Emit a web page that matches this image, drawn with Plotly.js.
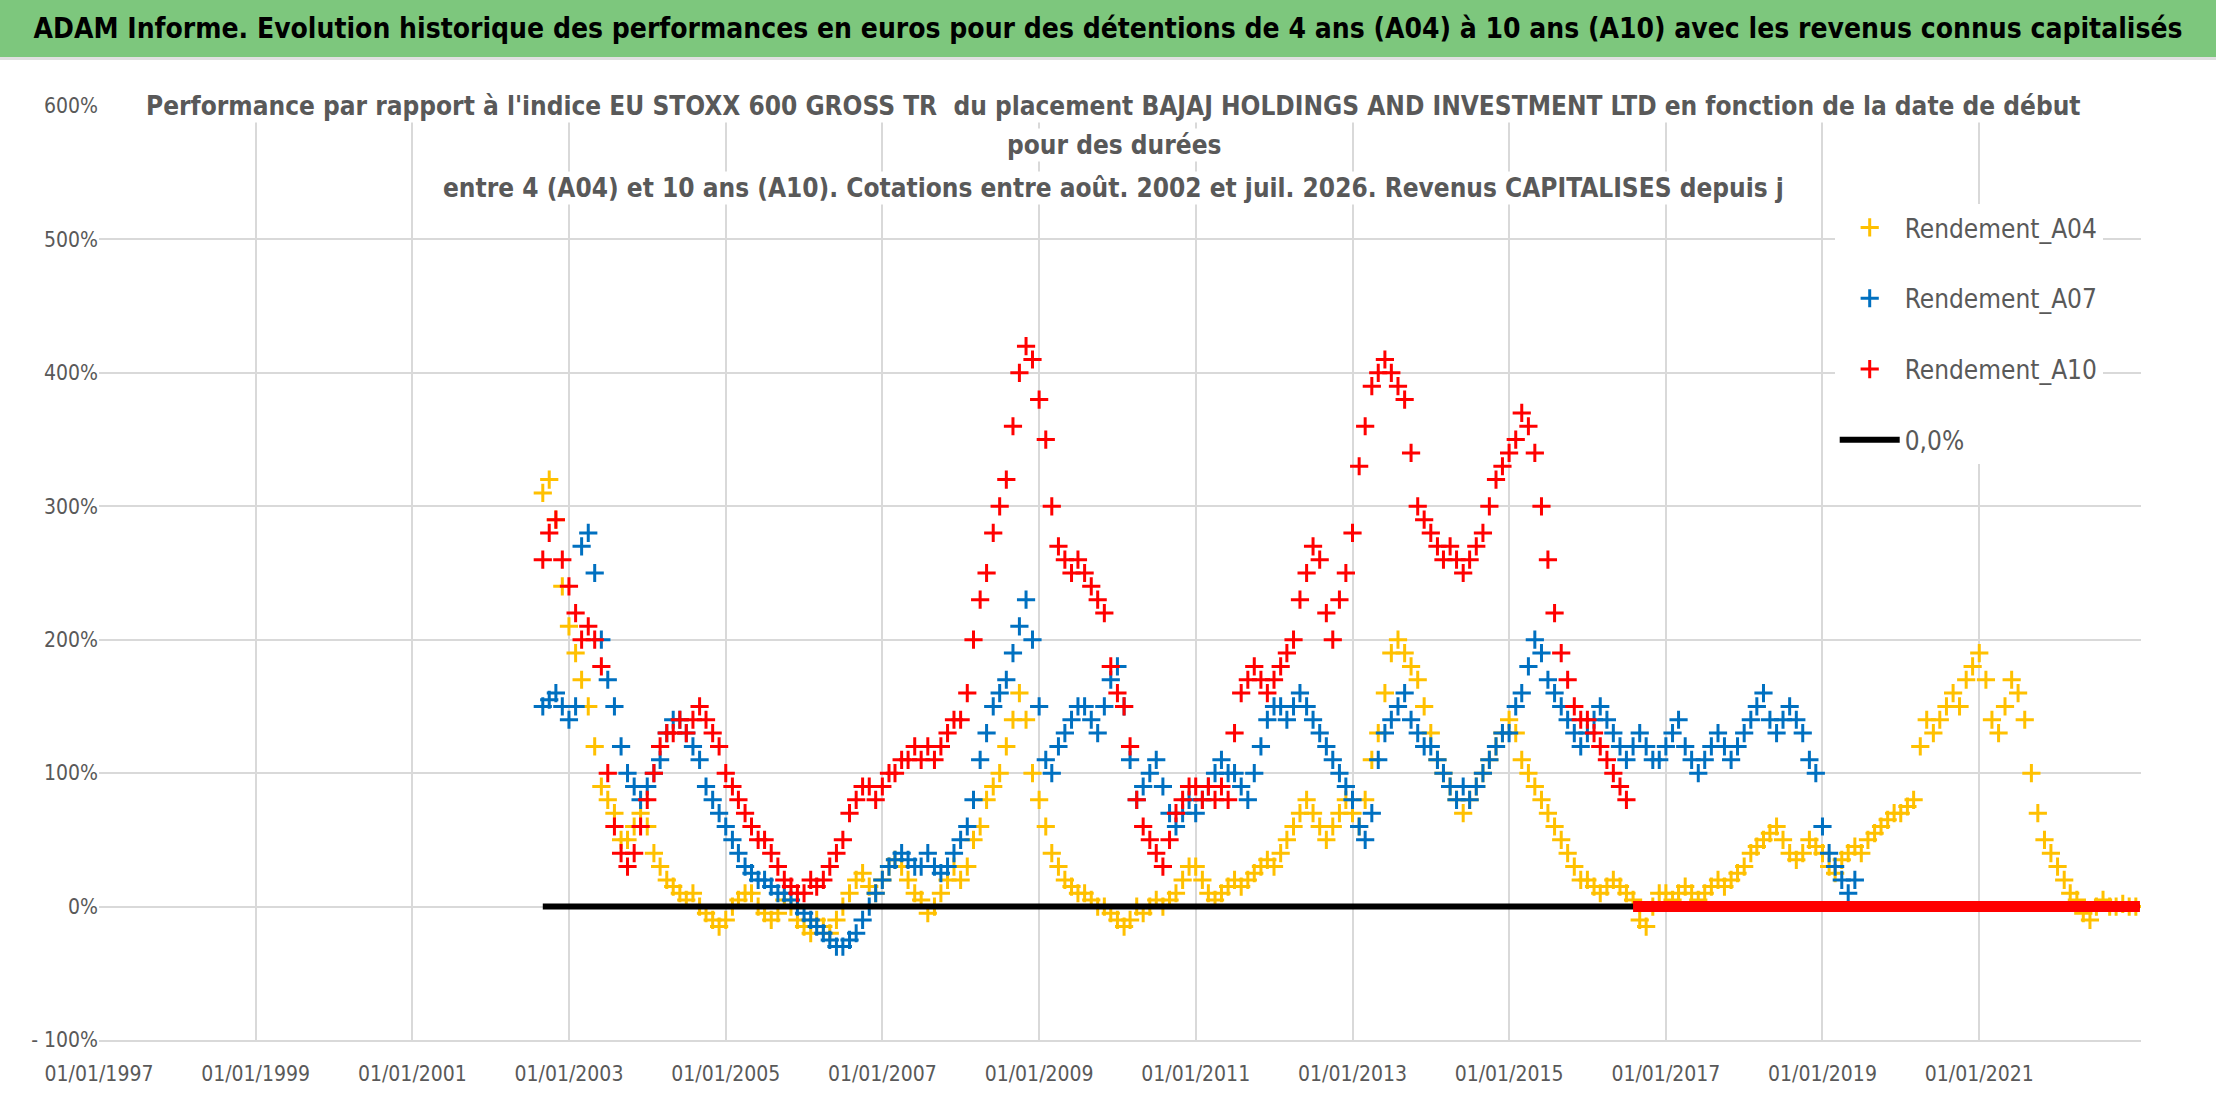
<!DOCTYPE html>
<html>
<head>
<meta charset="utf-8">
<script src="https://cdn.plot.ly/plotly-3.0.1.min.js"></script>
<style>
  body { margin: 0; background: #fff; }
  #head { position: absolute; left: 0; top: 0; width: 2216px; height: 57px; background: #7DC77D;
          font-family: 'DejaVu Sans Condensed', 'Liberation Sans', sans-serif; font-weight: bold; font-size: 28px;
          line-height: 57px; text-align: center; color: #000; z-index: 2; border-bottom: 3px solid #e0e0e0;
          white-space: nowrap; overflow: hidden; }
  #chart { position: absolute; left: 0; top: 0; width: 2216px; height: 1102px; }
</style>
</head>
<body>
<div id="head">ADAM Informe. Evolution historique des performances en euros pour des détentions de 4 ans (A04) à 10 ans (A10) avec les revenus connus capitalisés</div>
<div id="chart"></div>
<script>
// Monthly values (%), first month = START
const START = [2002, 9];

const A04 = [
  310, 320, 290, 240,
  210, 190, 170, 150, 120, 90, 80, 70, 50, 50, 60, 70,
  60, 40, 30, 20, 15, 10, 5, 10, 0, -5, -10, -15,
  -10, 0, 5, 10, 10, 0, -5, -10, -5, 5, 0, -10,
  -15, -20, -10, -15, -20, -10, 0, 10, 20, 25, 15, 10,
  20, 30, 35, 30, 20, 10, 5, -5, 0, 10, 20, 30,
  20, 30, 50, 60, 80, 90, 100, 120, 140, 160, 140, 100,
  80, 60, 40, 30, 20, 15, 10, 10, 5, 0, 0, -5,
  -10, -15, -10, 0, -5, 0, 5, 0, 5, 10, 20, 30,
  30, 20, 10, 5, 10, 15, 20, 15, 20, 25, 30, 35,
  30, 40, 50, 60, 70, 80, 70, 60, 50, 60, 70, 80,
  70, 60, 80, 110, 130, 160, 190, 200, 190, 180, 170, 150,
  130, 110, 100, 90, 80, 70, 80, 90, 100, 110, 120, 130,
  140, 130, 110, 100, 90, 80, 70, 60, 50, 40, 30, 20,
  20, 15, 10, 15, 20, 15, 10, 5, -10, -15, 0, 10,
  10, 5, 10, 15, 10, 5, 10, 15, 20, 15, 20, 25,
  30, 40, 45, 50, 55, 60, 50, 40, 35, 40, 50, 45,
  40, 30, 25, 35, 40, 45, 40, 50, 55, 60, 65, 70,
  70, 75, 80, 120, 140, 130, 140, 150, 160, 150, 170, 180,
  190, 170, 140, 130, 150, 170, 160, 140, 100, 70, 50, 40,
  30, 20, 10, 5, -5, -10, 0, 5, 0, 0, 2, 0,
  0
];

const A07 = [
  150, 155, 160, 150,
  140, 150, 270, 280, 250, 200, 170, 150, 120, 100, 90, 80,
  90, 100, 110, 130, 140, 140, 130, 120, 110, 90, 80, 70,
  60, 50, 40, 30, 25, 20, 20, 15, 10, 10, 5, 0,
  -5, -10, -15, -20, -25, -30, -30, -25, -20, -10, 0, 10,
  20, 30, 35, 40, 35, 30, 30, 40, 30, 25, 30, 40,
  50, 60, 80, 110, 130, 150, 160, 170, 190, 210, 230, 200,
  150, 110, 100, 120, 130, 140, 150, 150, 140, 130, 150, 170,
  180, 150, 110, 80, 90, 100, 110, 90, 70, 60, 70, 80,
  70, 80, 90, 100, 110, 100, 100, 90, 80, 100, 120, 140,
  150, 150, 140, 150, 160, 150, 140, 130, 120, 110, 100, 90,
  80, 60, 50, 70, 110, 130, 140, 150, 160, 140, 130, 120,
  120, 110, 100, 90, 80, 90, 80, 90, 100, 110, 120, 130,
  130, 150, 160, 180, 200, 190, 170, 160, 150, 140, 130, 120,
  130, 140, 150, 140, 130, 120, 110, 120, 130, 120, 110, 110,
  120, 130, 140, 120, 110, 100, 110, 120, 130, 120, 110, 120,
  130, 140, 150, 160, 140, 130, 140, 150, 140, 130, 110, 100,
  60, 40, 30, 20, 10, 20
];

const A10 = [
  260, 280, 290, 260,
  240, 220, 200, 210, 200, 180, 100, 60, 40, 30, 40, 60,
  80, 100, 120, 130, 130, 140, 130, 140, 150, 140, 130, 120,
  100, 90, 80, 70, 60, 50, 50, 40, 30, 20, 15, 10,
  10, 20, 15, 20, 30, 40, 50, 70, 80, 90, 90, 80,
  90, 100, 100, 110, 110, 120, 110, 120, 110, 120, 130, 140,
  140, 160, 200, 230, 250, 280, 300, 320, 360, 400, 420, 410,
  380, 350, 300, 270, 260, 250, 260, 250, 240, 230, 220, 180,
  160, 150, 120, 80, 60, 50, 40, 30, 50, 70, 80, 90,
  90, 80, 90, 80, 90, 80, 130, 160, 170, 180, 170, 160,
  170, 180, 190, 200, 230, 250, 270, 260, 220, 200, 230, 250,
  280, 330, 360, 390, 400, 410, 400, 390, 380, 340, 300, 290,
  280, 270, 260, 270, 260, 250, 260, 270, 280, 300, 320, 330,
  340, 350, 370, 360, 340, 300, 260, 220, 190, 170, 150, 140,
  140, 130, 120, 110, 100, 90, 80
];

// A10 values equal to 0 after this date, and the 0,0% reference line
const A10_ZERO = ['2016-08-01', '2023-01-20'];
const ZERO_LINE = ['2002-09-01', '2023-01-20'];
const ZERO_VAL = [0, 0];

const Y_TICKS = [-100, 0, 100, 200, 300, 400, 500, 600];
const Y_TEXT = ['- 100%', '0%', '100%', '200%', '300%', '400%', '500%', '600%'];
const X_TICKS = ['1997-01-01', '1999-01-01', '2001-01-01', '2003-01-01', '2005-01-01', '2007-01-01',
                 '2009-01-01', '2011-01-01', '2013-01-01', '2015-01-01', '2017-01-01', '2019-01-01', '2021-01-01'];

const TITLE_LINES = [
  "Performance par rapport à l'indice EU STOXX 600 GROSS TR  du placement BAJAJ HOLDINGS AND INVESTMENT LTD en fonction de la date de début",
  'pour des durées',
  'entre 4 (A04) et 10 ans (A10). Cotations entre août. 2002 et juil. 2026. Revenus CAPITALISES depuis j',
];

function months(n) {
  const out = [];
  for (let i = 0; i < n; i++) {
    const m = START[1] - 1 + i;
    const y = START[0] + Math.floor(m / 12);
    out.push(`${y}-${String(m % 12 + 1).padStart(2, '0')}-01`);
  }
  return out;
}

const FONT = "'DejaVu Sans Condensed', 'Liberation Sans', sans-serif";

function pts(name, vals, color, size, group) {
  return {
    name, legendgroup: group, type: 'scatter', mode: 'markers', x: months(vals.length), y: vals,
    marker: { symbol: 'cross-thin', size: size, color: color, line: { color: color, width: 3 } },
  };
}

const traces = [
  pts('Rendement_A04', A04, '#FFC000', 13, 'a'),
  pts('Rendement_A07', A07, '#0070C0', 13, 'b'),
  pts('Rendement_A10', A10, '#FF0000', 13, 'c'),
  { name: '0,0%', legendgroup: 'd', type: 'scatter', mode: 'lines', x: ZERO_LINE, y: ZERO_VAL,
    line: { color: '#000', width: 6 } },
  { name: 'A10 zero', showlegend: false, type: 'scatter', mode: 'lines', x: A10_ZERO, y: ZERO_VAL,
    line: { color: '#FF0000', width: 11 } },
];

const TITLE_Y = [1.0, 0.958, 0.912];

const layout = {
  width: 2216, height: 1102,
  paper_bgcolor: '#fff', plot_bgcolor: '#fff',
  margin: { l: 99, r: 75, t: 106, b: 62 },
  font: { family: FONT, color: '#595959', size: 22 },
  showlegend: true,
  legend: { x: 0.85, y: 0.895, xanchor: 'left', yanchor: 'top', bgcolor: '#fff',
            font: { size: 26, color: '#595959' }, tracegroupgap: 34, itemwidth: 60 },
  xaxis: {
    type: 'date', range: ['1997-01-01', '2023-01-25'],
    tickvals: X_TICKS, tickformat: '%d/%m/%Y',
    showgrid: true, gridcolor: '#d9d9d9', gridwidth: 2,
    showline: true, linecolor: '#d9d9d9', linewidth: 2, zeroline: false,
    tickfont: { size: 21, color: '#595959' }, ticks: 'outside', ticklen: 14, tickcolor: 'rgba(0,0,0,0)',
  },
  yaxis: {
    range: [-100, 600], tickvals: Y_TICKS, ticktext: Y_TEXT,
    showgrid: true, gridcolor: '#d9d9d9', gridwidth: 2, zeroline: false,
    tickfont: { size: 21, color: '#595959' },
  },
  annotations: TITLE_LINES.map((t, i) => ({
    xref: 'paper', yref: 'paper', x: 0.497, y: TITLE_Y[i], yanchor: 'middle', showarrow: false,
    bgcolor: '#fff', font: { size: 26, color: '#595959', family: FONT }, text: `<b>${t}</b>`,
  })),
};

Plotly.newPlot('chart', traces, layout, { displayModeBar: false, staticPlot: true });
</script>
</body>
</html>
